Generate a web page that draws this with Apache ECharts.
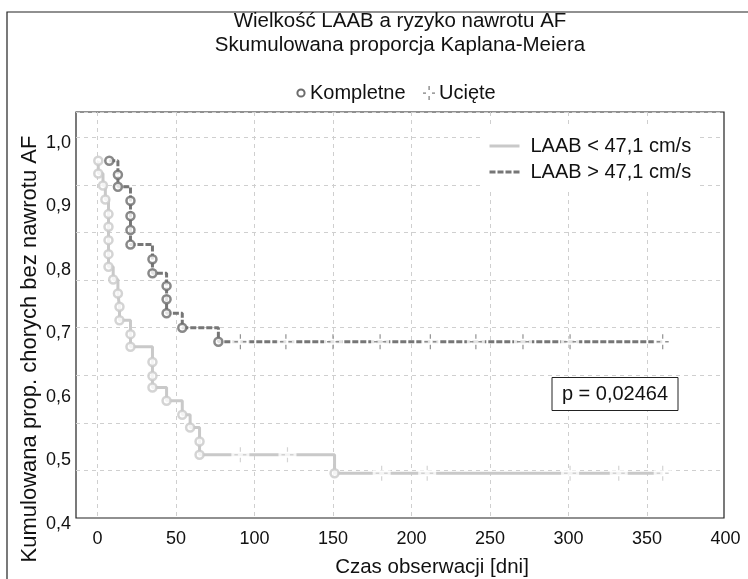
<!DOCTYPE html>
<html>
<head>
<meta charset="utf-8">
<script src="https://cdn.jsdelivr.net/npm/echarts@6/dist/echarts.min.js"></script>
<style>
html,body{margin:0;padding:0;background:#fff;}
#chart{width:748px;height:579px;}
</style>
</head>
<body>
<div id="chart"></div>
<script>
// ---- data ----
var titleLines = ['Wielkość LAAB a ryzyko nawrotu AF', 'Skumulowana proporcja Kaplana-Meiera'];
var seriesNames = ['LAAB < 47,1 cm/s', 'LAAB > 47,1 cm/s'];
var xTitle = 'Czas obserwacji [dni]';
var yTitle = 'Kumulowana prop. chorych bez nawrotu AF';
var pText = 'p = 0,02464';
var topLegend = ['Kompletne', 'Ucięte'];

// LAAB < 47,1 : complete (event) times and proportions
var lowEventT = [0.5, 0.5, 3.5, 5, 7, 7, 7, 7, 7, 10, 13, 14, 14, 21, 21, 35, 35, 35, 44, 54, 59, 65, 65, 151];
var lowEventS = [0.972, 0.952, 0.933, 0.911, 0.888, 0.868, 0.847, 0.825, 0.805, 0.785, 0.763, 0.742, 0.721, 0.699, 0.679, 0.655, 0.633, 0.615, 0.594, 0.572, 0.552, 0.530, 0.509, 0.480];
// LAAB < 47,1 : censored times and proportions
var lowCensT = [91, 121, 181, 210, 301, 332, 360];
var lowCensS = [0.509, 0.509, 0.480, 0.480, 0.480, 0.480, 0.480];

// LAAB > 47,1 : complete
var highEventT = [7.5, 13, 13, 21, 21, 21, 21, 35, 35, 44, 44, 44, 54, 77];
var highEventS = [0.972, 0.950, 0.931, 0.909, 0.885, 0.863, 0.840, 0.817, 0.795, 0.775, 0.754, 0.732, 0.709, 0.687];
// LAAB > 47,1 : censored
var highCensT = [91, 120, 150, 180, 212, 241, 271, 301, 360];
var highCensS = [0.687, 0.687, 0.687, 0.687, 0.687, 0.687, 0.687, 0.687, 0.687];

var xTicks = [0, 50, 100, 150, 200, 250, 300, 350, 400];
var yTicks = [0.4, 0.5, 0.6, 0.7, 0.8, 0.9, 1.0];

// ---- helpers ----
function pairs(t, s) { return t.map(function (v, i) { return [v, s[i]]; }); }
function pathData(evT, evS, ceT, ceS) {
  var pts = [];
  evT.forEach(function (t, i) { pts.push({ t: t, s: evS[i], k: 0, i: i }); });
  ceT.forEach(function (t, i) { pts.push({ t: t, s: ceS[i], k: 1, i: i }); });
  pts.sort(function (a, b) { return a.t - b.t || a.k - b.k || a.i - b.i; });
  return pts.map(function (p) { return [p.t, p.s]; });
}

var LIGHT = '#c9c9c9';
var DARK = '#767676';
var CIRC_DARK = '#6c6c6c';
var FONT = '"Liberation Sans", Arial, sans-serif';
var censorPath = 'path://M4,7.25h3.5v1.5h-3.5z M12.5,7.25h3.5v1.5h-3.5z M9.4,0.5h1.2v4.5h-1.2z M9.4,11h1.2v4.5h-1.2z';

// plot geometry
var PL = 76, PR = 724, PT = 112, PB = 518;
var X0 = 97.5, X400 = 725.5;              // pixel of 0 and 400 days
var pxPerDay = (X400 - X0) / 400;
var Y10 = 143, Y04 = 524;                 // pixel of 1,0 and 0,4
var pxPerUnit = (Y04 - Y10) / 0.6;
var xMin = (PL - X0) / pxPerDay, xMax = (PR - X0) / pxPerDay;
var yMax = 1.0 + (Y10 - PT) / pxPerUnit, yMin = 0.4 + (Y04 - PB) / pxPerUnit;
var hGridStep = 47.6;

var chart = echarts.init(document.getElementById('chart'), null, { renderer: 'canvas' });

var gridLineStyle = { color: '#cfcfcf', type: [4, 4], width: 1 };

function mark(cx, cy, color) {
  return [
    { type: 'rect', shape: { x: cx - 6, y: cy - 0.5, width: 3, height: 1.2 }, style: { fill: color }, z: 10 },
    { type: 'rect', shape: { x: cx + 3, y: cy - 0.5, width: 3, height: 1.2 }, style: { fill: color }, z: 10 },
    { type: 'rect', shape: { x: cx - 0.5, y: cy - 7, width: 1.2, height: 4 }, style: { fill: color }, z: 10 },
    { type: 'rect', shape: { x: cx - 0.5, y: cy + 3, width: 1.2, height: 4 }, style: { fill: color }, z: 10 }
  ];
}

var option = {
  backgroundColor: '#fff',
  animation: false,
  textStyle: { fontFamily: FONT },
  grid: [
    { left: PL, right: 748 - PR, top: PT, bottom: 579 - PB, show: true, borderColor: '#222', borderWidth: 1.2, backgroundColor: 'transparent' },
    { left: X0, right: 748 - X400, top: PT, bottom: 579 - PB, show: false },
    { left: PL, right: 748 - PR, top: Y10, bottom: 579 - Y04, show: false }
  ],
  xAxis: [
    { gridIndex: 0, type: 'value', min: xMin, max: xMax, show: false },
    { gridIndex: 1, type: 'value', min: xTicks[0], max: xTicks[xTicks.length - 1], interval: 50,
      axisLine: { show: false }, axisTick: { show: false },
      axisLabel: { fontSize: 18, color: '#111', margin: 12, fontFamily: FONT },
      splitLine: { show: true, showMaxLine: false, lineStyle: gridLineStyle } },
    { gridIndex: 2, type: 'value', min: 0, max: 1, show: false }
  ],
  yAxis: [
    { gridIndex: 0, type: 'value', min: yMin, max: yMax, show: false },
    { gridIndex: 0, type: 'value', min: 0, max: (PB - PT) / hGridStep, interval: 1,
      axisLine: { show: false }, axisTick: { show: false }, axisLabel: { show: false },
      splitLine: { show: true, showMinLine: false, lineStyle: gridLineStyle } },
    { gridIndex: 1, type: 'value', min: 0, max: 1, show: false },
    { gridIndex: 2, type: 'value', min: yTicks[0], max: yTicks[yTicks.length - 1], interval: 0.1,
      axisLine: { show: false }, axisTick: { show: false }, splitLine: { show: false },
      axisLabel: { fontSize: 18, color: '#111', margin: 5, fontFamily: FONT,
        formatter: function (v) { return v.toFixed(1).replace('.', ','); } } }
  ],
  legend: {
    data: seriesNames,
    orient: 'vertical',
    left: 483, top: 128,
    padding: [8, 8, 8, 5],
    backgroundColor: '#fff',
    itemWidth: 30, itemHeight: 14, itemGap: 6,
    itemStyle: { opacity: 0 },
    lineStyle: { width: 3 },
    textStyle: { fontSize: 20, color: '#111', lineHeight: 20, padding: [0, 0, 0, 6], fontFamily: FONT },
    selectedMode: false
  },
  series: [
    { name: seriesNames[0], type: 'line', xAxisIndex: 0, yAxisIndex: 0, step: 'end', symbol: 'none', z: 2,
      lineStyle: { color: LIGHT, width: 3 }, itemStyle: { color: LIGHT },
      data: pathData(lowEventT, lowEventS, lowCensT, lowCensS) },
    { name: seriesNames[1], type: 'line', xAxisIndex: 0, yAxisIndex: 0, step: 'end', symbol: 'none', z: 2,
      lineStyle: { color: DARK, width: 3, type: [6, 2] }, itemStyle: { color: DARK },
      data: pathData(highEventT, highEventS, highCensT, highCensS) },
    { name: 'gapLow', type: 'scatter', xAxisIndex: 0, yAxisIndex: 0, symbol: 'rect', symbolSize: [18, 6], z: 3,
      itemStyle: { color: '#fff' }, silent: true, data: pairs(lowCensT, lowCensS) },
    { name: 'gapHigh', type: 'scatter', xAxisIndex: 0, yAxisIndex: 0, symbol: 'rect', symbolSize: [18, 6], z: 3,
      itemStyle: { color: '#fff' }, silent: true, data: pairs(highCensT, highCensS) },
    { name: 'censLow', type: 'scatter', xAxisIndex: 0, yAxisIndex: 0, symbol: censorPath, symbolSize: [12, 15], z: 4,
      itemStyle: { color: LIGHT }, silent: true, data: pairs(lowCensT, lowCensS) },
    { name: 'censHigh', type: 'scatter', xAxisIndex: 0, yAxisIndex: 0, symbol: censorPath, symbolSize: [12, 15], z: 4,
      itemStyle: { color: DARK }, silent: true, data: pairs(highCensT, highCensS) },
    { name: 'compLow', type: 'scatter', xAxisIndex: 0, yAxisIndex: 0, symbol: 'circle', symbolSize: 8, z: 5,
      itemStyle: { color: '#fff', borderColor: LIGHT, borderWidth: 2.5 }, silent: true, data: pairs(lowEventT, lowEventS) },
    { name: 'compHigh', type: 'scatter', xAxisIndex: 0, yAxisIndex: 0, symbol: 'circle', symbolSize: 8, z: 5,
      itemStyle: { color: '#fff', borderColor: CIRC_DARK, borderWidth: 2.5 }, silent: true, data: pairs(highEventT, highEventS) }
  ],
  graphic: [
    { type: 'rect', shape: { x: 7, y: 12, width: 800, height: 700 }, style: { fill: 'none', stroke: '#222', lineWidth: 1.2 }, z: 0, silent: true },
    { type: 'text', x: 400, y: 21, style: { text: titleLines[0], font: '20.5px ' + FONT, fill: '#111', textAlign: 'center', textVerticalAlign: 'middle' }, z: 10 },
    { type: 'text', x: 400, y: 45, style: { text: titleLines[1], font: '20.5px ' + FONT, fill: '#111', textAlign: 'center', textVerticalAlign: 'middle' }, z: 10 },
    { type: 'circle', shape: { cx: 301, cy: 93, r: 3.6 }, style: { fill: '#fff', stroke: CIRC_DARK, lineWidth: 2 }, z: 10 },
    { type: 'text', x: 310, y: 93, style: { text: topLegend[0], font: '20px ' + FONT, fill: '#111', textAlign: 'left', textVerticalAlign: 'middle' }, z: 10 }
  ].concat(mark(429, 93, '#777')).concat([
    { type: 'text', x: 439, y: 93, style: { text: topLegend[1], font: '20px ' + FONT, fill: '#111', textAlign: 'left', textVerticalAlign: 'middle' }, z: 10 },
    { type: 'text', x: 432, y: 567, style: { text: xTitle, font: '20.5px ' + FONT, fill: '#111', textAlign: 'center', textVerticalAlign: 'middle' }, z: 10 },
    { type: 'text', x: 30, y: 349, rotation: Math.PI / 2, style: { text: yTitle, font: '22px ' + FONT, fill: '#111', textAlign: 'center', textVerticalAlign: 'middle' }, z: 10 },
    { type: 'rect', shape: { x: 552, y: 377.5, width: 126, height: 33 }, style: { fill: '#fff', stroke: '#222', lineWidth: 1 }, z: 10 },
    { type: 'text', x: 615, y: 394, style: { text: pText, font: '20px ' + FONT, fill: '#111', textAlign: 'center', textVerticalAlign: 'middle' }, z: 11 }
  ])
};
chart.setOption(option);
</script>
</body>
</html>
